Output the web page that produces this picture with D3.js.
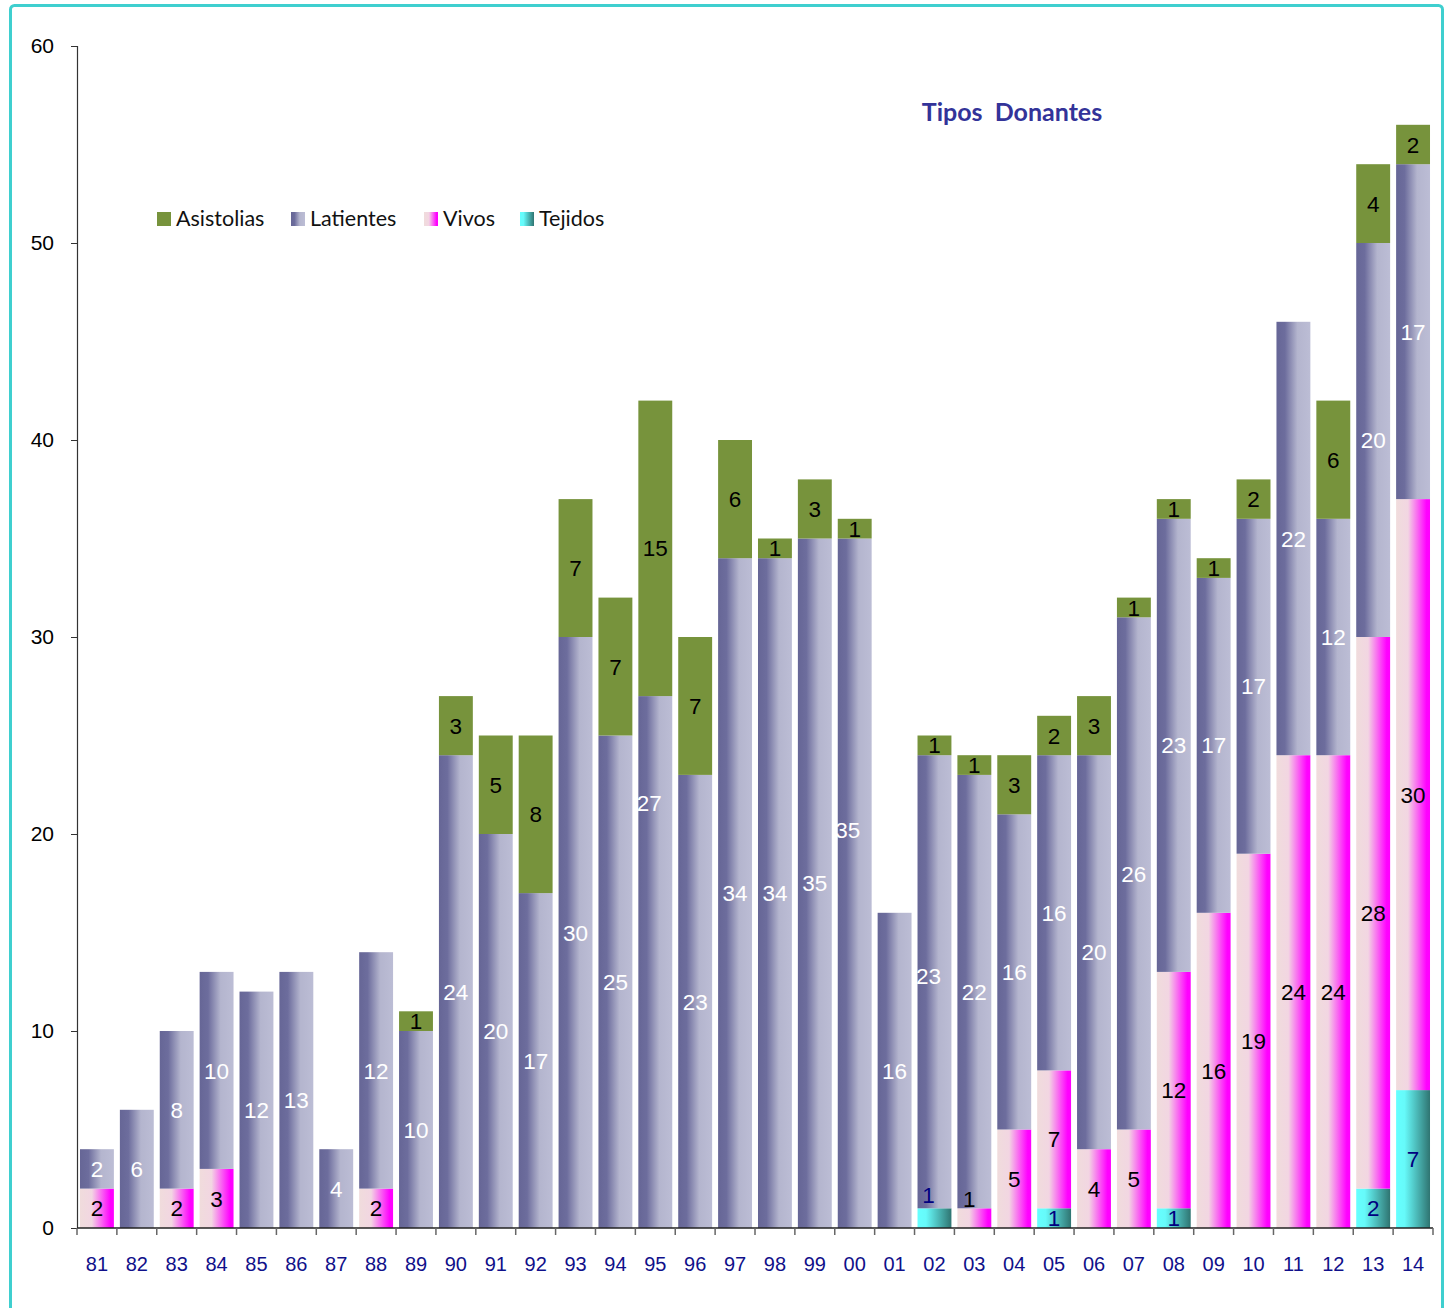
<!DOCTYPE html>
<html>
<head>
<meta charset="utf-8">
<script src="https://cdn.jsdelivr.net/npm/d3@7"></script>
<style>
  body { margin: 0; background: #fff; }
  svg text { font-family: "Liberation Sans", Arial, sans-serif; }
</style>
</head>
<body>
<div id="chart"></div>
<script>
// Data (donors per year, 1981-2014)
var years = ["81","82","83","84","85","86","87","88","89","90","91","92","93","94","95","96","97",
             "98","99","00","01","02","03","04","05","06","07","08","09","10","11","12","13","14"];
var tejidos    = [0,0,0,0,0,0,0,0,0,0,0,0,0,0,0,0,0,0,0,0,0,1,0,0,1,0,0,1,0,0,0,0,2,7];
var vivos      = [2,0,2,3,0,0,0,2,0,0,0,0,0,0,0,0,0,0,0,0,0,0,1,5,7,4,5,12,16,19,24,24,28,30];
var latientes  = [2,6,8,10,12,13,4,12,10,24,20,17,30,25,27,23,34,34,35,35,16,23,22,16,16,20,26,23,17,17,22,12,20,17];
var asistolias = [0,0,0,0,0,0,0,0,1,3,5,8,7,7,15,7,6,1,3,1,0,1,1,3,2,3,1,1,1,2,0,6,4,2];
var yTicks = [0,10,20,30,40,50,60];

var seriesKeys = ["tejidos","vivos","latientes","asistolias"];
var seriesNames = {asistolias: "Asistolias", latientes: "Latientes", vivos: "Vivos", tejidos: "Tejidos"};
var legendOrder = ["asistolias","latientes","vivos","tejidos"];

// a few labels in the original were moved by hand
var labelMoves = {
  "95-latientes": {at: 21.6, dx: -6},
  "00-latientes": {at: 20.2, dx: -7},
  "02-latientes": {at: 12.8, dx: -6},
  "02-tejidos":   {at: 1.7,  dx: -6},
  "03-vivos":     {at: 1.5,  dx: -5}
};

var svgWidth = 1448, svgHeight = 1308;
var margins = {top: 46, right: 15, bottom: 80, left: 77};

var svg = d3.select("#chart").append("svg")
    .attr("width", svgWidth)
    .attr("height", svgHeight);

// gradients
var defs = svg.append("defs");
function addGradient(id, stops){
  var g = defs.append("linearGradient").attr("id", id)
      .attr("x1", "0%").attr("x2", "100%").attr("y1", "0%").attr("y2", "0%");
  stops.forEach(function(s){
    g.append("stop").attr("offset", s[0]).attr("stop-color", s[1]);
  });
}
addGradient("g-latientes", [["0%","#666696"],["25%","#6d6d9d"],["62%","#b4b5ce"],["100%","#bcbdd5"]]);
addGradient("g-vivos", [["0%","#f0dcdc"],["35%","#f2d6e2"],["90%","#ff00ff"],["100%","#ff00ff"]]);
addGradient("g-tejidos", [["0%","#66ffff"],["25%","#66fafa"],["100%","#2f7471"]]);

var fills = {
  asistolias: "#77933c",
  latientes: "url(#g-latientes)",
  vivos: "url(#g-vivos)",
  tejidos: "url(#g-tejidos)"
};
var labelColors = {asistolias: "#000", latientes: "#fff", vivos: "#000", tejidos: "#000080"};

// frame
svg.append("rect")
    .attr("x", 10.5).attr("y", 5.5)
    .attr("width", 1432).attr("height", 1320)
    .attr("rx", 4)
    .attr("fill", "none")
    .attr("stroke", "#3fcfcf")
    .attr("stroke-width", 3);

var plotRight = 1433, plotBottom = 1228;

var xScale = d3.scaleBand()
    .domain(years)
    .range([margins.left, plotRight])
    .paddingInner(0.15)
    .paddingOuter(0.075);

var yScale = d3.scaleLinear()
    .domain([0, 60])
    .range([plotBottom, margins.top]);

// stack
var rows = years.map(function(y, i){
  return {year: y, tejidos: tejidos[i], vivos: vivos[i], latientes: latientes[i], asistolias: asistolias[i]};
});
var stacked = d3.stack().keys(seriesKeys)(rows);

var layers = svg.append("g").selectAll("g")
    .data(stacked)
    .enter().append("g")
    .attr("fill", function(d){ return fills[d.key]; });

layers.selectAll("rect")
    .data(function(d){ return d.filter(function(p){ return p[1] - p[0] > 0; }); })
    .enter().append("rect")
    .attr("x", function(d){ return xScale(d.data.year); })
    .attr("width", xScale.bandwidth())
    .attr("y", function(d){ return yScale(d[1]); })
    .attr("height", function(d){ return yScale(d[0]) - yScale(d[1]); });

// value labels
stacked.forEach(function(layer){
  var key = layer.key;
  svg.append("g").selectAll("text")
      .data(layer.filter(function(p){ return p[1] - p[0] > 0; }))
      .enter().append("text")
      .attr("x", function(d){
        var mv = labelMoves[d.data.year + "-" + key];
        return xScale(d.data.year) + xScale.bandwidth() / 2 + (mv ? mv.dx : 0);
      })
      .attr("y", function(d){
        var mv = labelMoves[d.data.year + "-" + key];
        return yScale(mv ? mv.at : (d[0] + d[1]) / 2);
      })
      .attr("dy", "0.36em")
      .attr("text-anchor", "middle")
      .attr("font-size", "22.5px")
      .attr("fill", labelColors[key])
      .text(function(d){ return d[1] - d[0]; });
});

// y axis
var leftAxis = d3.axisLeft(yScale).tickValues(yTicks).tickSize(6).tickPadding(17);
var yAxis = svg.append("g")
    .attr("transform", "translate(" + margins.left + ",0)")
    .call(leftAxis);
yAxis.select(".domain").attr("stroke", "#333").attr("stroke-width", 1.2);
yAxis.selectAll(".tick line").attr("stroke", "#333");
yAxis.selectAll(".tick text")
    .attr("font-size", "21px")
    .attr("fill", "#000")
    .attr("font-family", "Liberation Sans, Arial, sans-serif");

// x axis line + boundary ticks
var xAxisG = svg.append("g");
xAxisG.append("line")
    .attr("x1", margins.left).attr("x2", plotRight)
    .attr("y1", plotBottom).attr("y2", plotBottom)
    .attr("stroke", "#222").attr("stroke-width", 1.5);
var step = xScale.step();
xAxisG.selectAll(".bt")
    .data(years.concat(["end"]))
    .enter().append("line")
    .attr("x1", function(d, i){ return margins.left + i * step; })
    .attr("x2", function(d, i){ return margins.left + i * step; })
    .attr("y1", plotBottom).attr("y2", plotBottom + 7)
    .attr("stroke", "#666").attr("stroke-width", 1.5);
xAxisG.selectAll(".xl")
    .data(years)
    .enter().append("text")
    .attr("x", function(d){ return xScale(d) + xScale.bandwidth() / 2; })
    .attr("y", plotBottom + 43)
    .attr("text-anchor", "middle")
    .attr("font-size", "20px")
    .attr("fill", "#10108a")
    .text(function(d){ return d; });

// title (two spaces kept as in the original)
svg.append("text")
    .attr("x", 1012)
    .attr("y", 121)
    .attr("text-anchor", "middle")
    .style("white-space", "pre")
    .style("font-family", "Lato, 'Open Sans', sans-serif")
    .style("font-weight", "bold")
    .style("font-size", "25px")
    .attr("fill", "#333399")
    .text("Tipos  Donantes");

// legend
var legendX = [157, 291, 424, 520];
var legend = svg.append("g").selectAll("g")
    .data(legendOrder)
    .enter().append("g")
    .attr("transform", function(d, i){ return "translate(" + legendX[i] + ",212)"; });
legend.append("rect")
    .attr("width", 14).attr("height", 14)
    .attr("fill", function(d){ return fills[d]; });
legend.append("text")
    .attr("x", 19).attr("y", 14)
    .style("font-family", "Lato, 'Open Sans', sans-serif")
    .style("font-size", "21.5px")
    .attr("fill", "#111")
    .text(function(d){ return seriesNames[d]; });
</script>
</body>
</html>
